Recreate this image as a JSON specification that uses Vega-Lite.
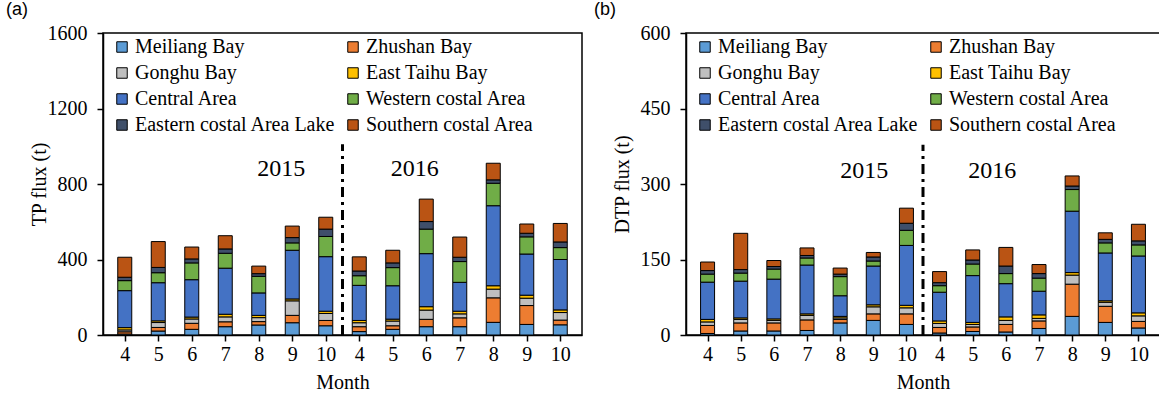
{
"$schema": "https://vega.github.io/schema/vega-lite/v6.json",
"padding": {"left": 5, "top": 0, "right": 0, "bottom": 0},
"spacing": 10,
"config": {
 "font": "Liberation Serif",
 "view": {"stroke": "black", "strokeWidth": 1.5},
 "axis": {"domainColor": "black", "domainWidth": 1.5, "tickColor": "black", "tickWidth": 1.5, "labelColor": "black", "titleColor": "black", "grid": false, "labelFont": "Liberation Serif", "titleFont": "Liberation Serif", "labelFontSize": 20, "titleFontSize": 20, "titleFontWeight": "normal", "tickSize": 6, "labelOverlap": false, "labelFlush": false, "format": "d"},
 "legend": {"orient": "none", "legendX": 9, "legendY": 4, "columns": 2, "direction": "horizontal", "symbolType": "square", "symbolSize": 110, "symbolStrokeColor": "black", "symbolStrokeWidth": 1, "labelFont": "Liberation Serif", "labelFontSize": 20, "labelColor": "black", "columnPadding": 7, "rowPadding": 6, "labelOffset": 3, "padding": 0, "labelLimit": 400},
 "title": {"font": "Liberation Sans", "fontSize": 18, "fontWeight": "normal", "anchor": "start", "frame": "bounds", "offset": 0, "color": "black"}
},
"resolve": {"scale": {"color": "independent", "x": "independent", "y": "independent"}, "legend": {"color": "independent"}},
"datasets": {
 "tp": [
{"m":1,"k":1,"a":"Meiliang Bay","v":5},{"m":1,"k":2,"a":"Zhushan Bay","v":12},{"m":1,"k":3,"a":"Gonghu Bay","v":10},{"m":1,"k":4,"a":"East Taihu Bay","v":12},{"m":1,"k":5,"a":"Central Area","v":196},{"m":1,"k":6,"a":"Western costal Area","v":53},{"m":1,"k":7,"a":"Eastern costal Area Lake","v":18},{"m":1,"k":8,"a":"Southern costal Area","v":106},
{"m":2,"k":1,"a":"Meiliang Bay","v":21},{"m":2,"k":2,"a":"Zhushan Bay","v":19},{"m":2,"k":3,"a":"Gonghu Bay","v":26},{"m":2,"k":4,"a":"East Taihu Bay","v":9},{"m":2,"k":5,"a":"Central Area","v":202},{"m":2,"k":6,"a":"Western costal Area","v":53},{"m":2,"k":7,"a":"Eastern costal Area Lake","v":28},{"m":2,"k":8,"a":"Southern costal Area","v":137},
{"m":3,"k":1,"a":"Meiliang Bay","v":30},{"m":3,"k":2,"a":"Zhushan Bay","v":32},{"m":3,"k":3,"a":"Gonghu Bay","v":23},{"m":3,"k":4,"a":"East Taihu Bay","v":10},{"m":3,"k":5,"a":"Central Area","v":198},{"m":3,"k":6,"a":"Western costal Area","v":89},{"m":3,"k":7,"a":"Eastern costal Area Lake","v":21},{"m":3,"k":8,"a":"Southern costal Area","v":63},
{"m":4,"k":1,"a":"Meiliang Bay","v":44},{"m":4,"k":2,"a":"Zhushan Bay","v":26},{"m":4,"k":3,"a":"Gonghu Bay","v":26},{"m":4,"k":4,"a":"East Taihu Bay","v":14},{"m":4,"k":5,"a":"Central Area","v":244},{"m":4,"k":6,"a":"Western costal Area","v":79},{"m":4,"k":7,"a":"Eastern costal Area Lake","v":23},{"m":4,"k":8,"a":"Southern costal Area","v":70},
{"m":5,"k":1,"a":"Meiliang Bay","v":53},{"m":5,"k":2,"a":"Zhushan Bay","v":18},{"m":5,"k":3,"a":"Gonghu Bay","v":21},{"m":5,"k":4,"a":"East Taihu Bay","v":12},{"m":5,"k":5,"a":"Central Area","v":119},{"m":5,"k":6,"a":"Western costal Area","v":88},{"m":5,"k":7,"a":"Eastern costal Area Lake","v":14},{"m":5,"k":8,"a":"Southern costal Area","v":40},
{"m":6,"k":1,"a":"Meiliang Bay","v":65},{"m":6,"k":2,"a":"Zhushan Bay","v":39},{"m":6,"k":3,"a":"Gonghu Bay","v":77},{"m":6,"k":4,"a":"East Taihu Bay","v":10},{"m":6,"k":5,"a":"Central Area","v":258},{"m":6,"k":6,"a":"Western costal Area","v":39},{"m":6,"k":7,"a":"Eastern costal Area Lake","v":28},{"m":6,"k":8,"a":"Southern costal Area","v":61},
{"m":7,"k":1,"a":"Meiliang Bay","v":49},{"m":7,"k":2,"a":"Zhushan Bay","v":28},{"m":7,"k":3,"a":"Gonghu Bay","v":37},{"m":7,"k":4,"a":"East Taihu Bay","v":12},{"m":7,"k":5,"a":"Central Area","v":289},{"m":7,"k":6,"a":"Western costal Area","v":107},{"m":7,"k":7,"a":"Eastern costal Area Lake","v":39},{"m":7,"k":8,"a":"Southern costal Area","v":63},
{"m":8,"k":1,"a":"Meiliang Bay","v":18},{"m":8,"k":2,"a":"Zhushan Bay","v":26},{"m":8,"k":3,"a":"Gonghu Bay","v":21},{"m":8,"k":4,"a":"East Taihu Bay","v":12},{"m":8,"k":5,"a":"Central Area","v":186},{"m":8,"k":6,"a":"Western costal Area","v":51},{"m":8,"k":7,"a":"Eastern costal Area Lake","v":25},{"m":8,"k":8,"a":"Southern costal Area","v":75},
{"m":9,"k":1,"a":"Meiliang Bay","v":30},{"m":9,"k":2,"a":"Zhushan Bay","v":19},{"m":9,"k":3,"a":"Gonghu Bay","v":25},{"m":9,"k":4,"a":"East Taihu Bay","v":10},{"m":9,"k":5,"a":"Central Area","v":177},{"m":9,"k":6,"a":"Western costal Area","v":96},{"m":9,"k":7,"a":"Eastern costal Area Lake","v":25},{"m":9,"k":8,"a":"Southern costal Area","v":67},
{"m":10,"k":1,"a":"Meiliang Bay","v":44},{"m":10,"k":2,"a":"Zhushan Bay","v":39},{"m":10,"k":3,"a":"Gonghu Bay","v":49},{"m":10,"k":4,"a":"East Taihu Bay","v":18},{"m":10,"k":5,"a":"Central Area","v":281},{"m":10,"k":6,"a":"Western costal Area","v":130},{"m":10,"k":7,"a":"Eastern costal Area Lake","v":40},{"m":10,"k":8,"a":"Southern costal Area","v":119},
{"m":11,"k":1,"a":"Meiliang Bay","v":44},{"m":11,"k":2,"a":"Zhushan Bay","v":47},{"m":11,"k":3,"a":"Gonghu Bay","v":21},{"m":11,"k":4,"a":"East Taihu Bay","v":14},{"m":11,"k":5,"a":"Central Area","v":153},{"m":11,"k":6,"a":"Western costal Area","v":110},{"m":11,"k":7,"a":"Eastern costal Area Lake","v":23},{"m":11,"k":8,"a":"Southern costal Area","v":107},
{"m":12,"k":1,"a":"Meiliang Bay","v":67},{"m":12,"k":2,"a":"Zhushan Bay","v":130},{"m":12,"k":3,"a":"Gonghu Bay","v":46},{"m":12,"k":4,"a":"East Taihu Bay","v":18},{"m":12,"k":5,"a":"Central Area","v":424},{"m":12,"k":6,"a":"Western costal Area","v":119},{"m":12,"k":7,"a":"Eastern costal Area Lake","v":18},{"m":12,"k":8,"a":"Southern costal Area","v":88},
{"m":13,"k":1,"a":"Meiliang Bay","v":56},{"m":13,"k":2,"a":"Zhushan Bay","v":100},{"m":13,"k":3,"a":"Gonghu Bay","v":39},{"m":13,"k":4,"a":"East Taihu Bay","v":16},{"m":13,"k":5,"a":"Central Area","v":218},{"m":13,"k":6,"a":"Western costal Area","v":91},{"m":13,"k":7,"a":"Eastern costal Area Lake","v":19},{"m":13,"k":8,"a":"Southern costal Area","v":49},
{"m":14,"k":1,"a":"Meiliang Bay","v":54},{"m":14,"k":2,"a":"Zhushan Bay","v":25},{"m":14,"k":3,"a":"Gonghu Bay","v":40},{"m":14,"k":4,"a":"East Taihu Bay","v":14},{"m":14,"k":5,"a":"Central Area","v":267},{"m":14,"k":6,"a":"Western costal Area","v":63},{"m":14,"k":7,"a":"Eastern costal Area Lake","v":30},{"m":14,"k":8,"a":"Southern costal Area","v":98}
 ],
 "dtp": [
{"m":1,"k":1,"a":"Meiliang Bay","v":3},{"m":1,"k":2,"a":"Zhushan Bay","v":16},{"m":1,"k":3,"a":"Gonghu Bay","v":7},{"m":1,"k":4,"a":"East Taihu Bay","v":5},{"m":1,"k":5,"a":"Central Area","v":74},{"m":1,"k":6,"a":"Western costal Area","v":16},{"m":1,"k":7,"a":"Eastern costal Area Lake","v":7},{"m":1,"k":8,"a":"Southern costal Area","v":17},
{"m":2,"k":1,"a":"Meiliang Bay","v":8},{"m":2,"k":2,"a":"Zhushan Bay","v":16},{"m":2,"k":3,"a":"Gonghu Bay","v":7},{"m":2,"k":4,"a":"East Taihu Bay","v":3},{"m":2,"k":5,"a":"Central Area","v":73},{"m":2,"k":6,"a":"Western costal Area","v":16},{"m":2,"k":7,"a":"Eastern costal Area Lake","v":7},{"m":2,"k":8,"a":"Southern costal Area","v":72},
{"m":3,"k":1,"a":"Meiliang Bay","v":8},{"m":3,"k":2,"a":"Zhushan Bay","v":16},{"m":3,"k":3,"a":"Gonghu Bay","v":5},{"m":3,"k":4,"a":"East Taihu Bay","v":3},{"m":3,"k":5,"a":"Central Area","v":79},{"m":3,"k":6,"a":"Western costal Area","v":20},{"m":3,"k":7,"a":"Eastern costal Area Lake","v":5},{"m":3,"k":8,"a":"Southern costal Area","v":12},
{"m":4,"k":1,"a":"Meiliang Bay","v":9},{"m":4,"k":2,"a":"Zhushan Bay","v":21},{"m":4,"k":3,"a":"Gonghu Bay","v":9},{"m":4,"k":4,"a":"East Taihu Bay","v":3},{"m":4,"k":5,"a":"Central Area","v":97},{"m":4,"k":6,"a":"Western costal Area","v":14},{"m":4,"k":7,"a":"Eastern costal Area Lake","v":5},{"m":4,"k":8,"a":"Southern costal Area","v":15},
{"m":5,"k":1,"a":"Meiliang Bay","v":24},{"m":5,"k":2,"a":"Zhushan Bay","v":7},{"m":5,"k":3,"a":"Gonghu Bay","v":3},{"m":5,"k":4,"a":"East Taihu Bay","v":3},{"m":5,"k":5,"a":"Central Area","v":41},{"m":5,"k":6,"a":"Western costal Area","v":38},{"m":5,"k":7,"a":"Eastern costal Area Lake","v":5},{"m":5,"k":8,"a":"Southern costal Area","v":12},
{"m":6,"k":1,"a":"Meiliang Bay","v":29},{"m":6,"k":2,"a":"Zhushan Bay","v":13},{"m":6,"k":3,"a":"Gonghu Bay","v":14},{"m":6,"k":4,"a":"East Taihu Bay","v":4},{"m":6,"k":5,"a":"Central Area","v":77},{"m":6,"k":6,"a":"Western costal Area","v":10},{"m":6,"k":7,"a":"Eastern costal Area Lake","v":8},{"m":6,"k":8,"a":"Southern costal Area","v":9},
{"m":7,"k":1,"a":"Meiliang Bay","v":21},{"m":7,"k":2,"a":"Zhushan Bay","v":21},{"m":7,"k":3,"a":"Gonghu Bay","v":12},{"m":7,"k":4,"a":"East Taihu Bay","v":5},{"m":7,"k":5,"a":"Central Area","v":119},{"m":7,"k":6,"a":"Western costal Area","v":30},{"m":7,"k":7,"a":"Eastern costal Area Lake","v":14},{"m":7,"k":8,"a":"Southern costal Area","v":30},
{"m":8,"k":1,"a":"Meiliang Bay","v":4},{"m":8,"k":2,"a":"Zhushan Bay","v":11},{"m":8,"k":3,"a":"Gonghu Bay","v":8},{"m":8,"k":4,"a":"East Taihu Bay","v":5},{"m":8,"k":5,"a":"Central Area","v":57},{"m":8,"k":6,"a":"Western costal Area","v":13},{"m":8,"k":7,"a":"Eastern costal Area Lake","v":6},{"m":8,"k":8,"a":"Southern costal Area","v":22},
{"m":9,"k":1,"a":"Meiliang Bay","v":7},{"m":9,"k":2,"a":"Zhushan Bay","v":9},{"m":9,"k":3,"a":"Gonghu Bay","v":5},{"m":9,"k":4,"a":"East Taihu Bay","v":4},{"m":9,"k":5,"a":"Central Area","v":93},{"m":9,"k":6,"a":"Western costal Area","v":23},{"m":9,"k":7,"a":"Eastern costal Area Lake","v":8},{"m":9,"k":8,"a":"Southern costal Area","v":20},
{"m":10,"k":1,"a":"Meiliang Bay","v":6},{"m":10,"k":2,"a":"Zhushan Bay","v":15},{"m":10,"k":3,"a":"Gonghu Bay","v":8},{"m":10,"k":4,"a":"East Taihu Bay","v":7},{"m":10,"k":5,"a":"Central Area","v":66},{"m":10,"k":6,"a":"Western costal Area","v":20},{"m":10,"k":7,"a":"Eastern costal Area Lake","v":15},{"m":10,"k":8,"a":"Southern costal Area","v":37},
{"m":11,"k":1,"a":"Meiliang Bay","v":13},{"m":11,"k":2,"a":"Zhushan Bay","v":15},{"m":11,"k":3,"a":"Gonghu Bay","v":5},{"m":11,"k":4,"a":"East Taihu Bay","v":7},{"m":11,"k":5,"a":"Central Area","v":47},{"m":11,"k":6,"a":"Western costal Area","v":26},{"m":11,"k":7,"a":"Eastern costal Area Lake","v":9},{"m":11,"k":8,"a":"Southern costal Area","v":18},
{"m":12,"k":1,"a":"Meiliang Bay","v":37},{"m":12,"k":2,"a":"Zhushan Bay","v":64},{"m":12,"k":3,"a":"Gonghu Bay","v":18},{"m":12,"k":4,"a":"East Taihu Bay","v":5},{"m":12,"k":5,"a":"Central Area","v":122},{"m":12,"k":6,"a":"Western costal Area","v":43},{"m":12,"k":7,"a":"Eastern costal Area Lake","v":7},{"m":12,"k":8,"a":"Southern costal Area","v":20},
{"m":13,"k":1,"a":"Meiliang Bay","v":25},{"m":13,"k":2,"a":"Zhushan Bay","v":32},{"m":13,"k":3,"a":"Gonghu Bay","v":8},{"m":13,"k":4,"a":"East Taihu Bay","v":3},{"m":13,"k":5,"a":"Central Area","v":95},{"m":13,"k":6,"a":"Western costal Area","v":20},{"m":13,"k":7,"a":"Eastern costal Area Lake","v":7},{"m":13,"k":8,"a":"Southern costal Area","v":13},
{"m":14,"k":1,"a":"Meiliang Bay","v":14},{"m":14,"k":2,"a":"Zhushan Bay","v":13},{"m":14,"k":3,"a":"Gonghu Bay","v":11},{"m":14,"k":4,"a":"East Taihu Bay","v":6},{"m":14,"k":5,"a":"Central Area","v":113},{"m":14,"k":6,"a":"Western costal Area","v":22},{"m":14,"k":7,"a":"Eastern costal Area Lake","v":8},{"m":14,"k":8,"a":"Southern costal Area","v":33}
 ]
},
"hconcat": [
 {
  "width": 479, "height": 302,
  "title": {"text": "(a)", "dx": -23},
  "layer": [
   {"data": {"name": "tp"},
    "mark": {"type": "bar", "size": 14, "stroke": "black", "strokeWidth": 1},
    "encoding": {
     "x": {"field": "m", "type": "quantitative", "scale": {"domain": [0.5, 14.5], "nice": false}, "axis": {"values": [1,2,3,4,5,6,7,8,9,10,11,12,13,14], "tickCount": 30, "labelExpr": "(datum.value - 1) % 7 + 4", "labelAngle": 0, "labelPadding": 3, "title": "Month", "titlePadding": 8}},
     "y": {"field": "v", "type": "quantitative", "stack": "zero", "scale": {"domain": [0, 1600], "nice": false}, "axis": {"values": [0,400,800,1200,1600], "title": "TP flux (t)", "titleX": -54, "labelPadding": 10}},
     "color": {"field": "a", "type": "nominal", "scale": {"domain": ["Meiliang Bay","Zhushan Bay","Gonghu Bay","East Taihu Bay","Central Area","Western costal Area","Eastern costal Area Lake","Southern costal Area"], "range": ["#5B9BD5","#ED7D31","#BFBFBF","#FFC000","#4472C4","#70AD47","#3F4F6A","#BA5414"]}, "legend": {"title": null}},
     "order": {"field": "k", "type": "quantitative"}
    }},
   {"data": {"values": [{}]},
    "mark": {"type": "rule", "strokeDash": [10,5,3,5], "strokeWidth": 3, "color": "black"},
    "encoding": {"x": {"datum": 7.5, "type": "quantitative"}, "y": {"datum": 0, "type": "quantitative"}, "y2": {"datum": 1010}}},
   {"data": {"values": [{"m": 5.67, "v": 877, "t": "2015"}, {"m": 9.66, "v": 877, "t": "2016"}]},
    "mark": {"type": "text", "fontSize": 24, "font": "Liberation Serif", "color": "black", "baseline": "middle"},
    "encoding": {"x": {"field": "m", "type": "quantitative"}, "y": {"field": "v", "type": "quantitative"}, "text": {"field": "t"}}}
  ]
 },
 {
  "width": 474, "height": 302,
  "title": {"text": "(b)", "dx": -18},
  "layer": [
   {"data": {"name": "dtp"},
    "mark": {"type": "bar", "size": 14, "stroke": "black", "strokeWidth": 1},
    "encoding": {
     "x": {"field": "m", "type": "quantitative", "scale": {"domain": [0.5, 14.5], "nice": false}, "axis": {"values": [1,2,3,4,5,6,7,8,9,10,11,12,13,14], "tickCount": 30, "labelExpr": "(datum.value - 1) % 7 + 4", "labelAngle": 0, "labelPadding": 3, "title": "Month", "titlePadding": 8}},
     "y": {"field": "v", "type": "quantitative", "stack": "zero", "scale": {"domain": [0, 600], "nice": false}, "axis": {"values": [0,150,300,450,600], "title": "DTP flux (t)", "titleX": -54, "labelPadding": 10}},
     "color": {"field": "a", "type": "nominal", "scale": {"domain": ["Meiliang Bay","Zhushan Bay","Gonghu Bay","East Taihu Bay","Central Area","Western costal Area","Eastern costal Area Lake","Southern costal Area"], "range": ["#5B9BD5","#ED7D31","#BFBFBF","#FFC000","#4472C4","#70AD47","#3F4F6A","#BA5414"]}, "legend": {"title": null}},
     "order": {"field": "k", "type": "quantitative"}
    }},
   {"data": {"values": [{}]},
    "mark": {"type": "rule", "strokeDash": [10,5,3,5], "strokeWidth": 3, "color": "black"},
    "encoding": {"x": {"datum": 7.5, "type": "quantitative"}, "y": {"datum": 0, "type": "quantitative"}, "y2": {"datum": 378}}},
   {"data": {"values": [{"m": 5.73, "v": 325, "t": "2015"}, {"m": 9.59, "v": 325, "t": "2016"}]},
    "mark": {"type": "text", "fontSize": 24, "font": "Liberation Serif", "color": "black", "baseline": "middle"},
    "encoding": {"x": {"field": "m", "type": "quantitative"}, "y": {"field": "v", "type": "quantitative"}, "text": {"field": "t"}}}
  ]
 }
]
}
